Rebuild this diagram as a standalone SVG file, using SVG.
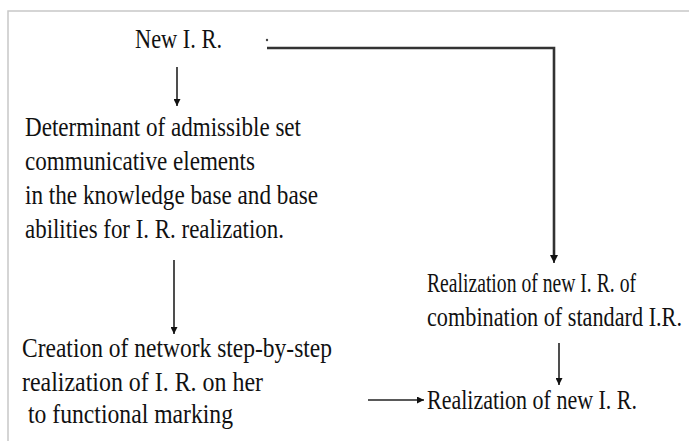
<svg xmlns="http://www.w3.org/2000/svg" width="689" height="441" viewBox="0 0 689 441">
<style>
text{font-family:"Liberation Serif","Times New Roman",serif;font-size:27px;fill:#111}
.ln{stroke:#222;stroke-width:1.6;fill:none}
.bl{stroke:#333;stroke-width:2.6;fill:none}
.fr{stroke:#c8c8c8;stroke-width:1.5;fill:none}
</style>
<defs>
<marker id="ah" viewBox="0 0 10 10" refX="10" refY="5" markerWidth="7" markerHeight="7" markerUnits="userSpaceOnUse" orient="auto">
<path d="M0,0 L10,5 L0,10 z" fill="#111"/>
</marker>
<marker id="ah2" viewBox="0 0 10 10" refX="10" refY="5" markerWidth="8" markerHeight="8" markerUnits="userSpaceOnUse" orient="auto">
<path d="M0,0 L10,5 L0,10 z" fill="#111"/>
</marker>
</defs>
<rect width="689" height="441" fill="#fff"/>
<path class="fr" d="M8,441 V11 H689"/>
<g id="n-new">
<text x="135" y="48" textLength="87" lengthAdjust="spacingAndGlyphs">New I. R.</text>
<circle cx="267" cy="40" r="1.2" fill="#444"/>
</g>
<g id="n-determinant">
<text x="25" y="136" textLength="276" lengthAdjust="spacingAndGlyphs">Determinant of admissible set</text>
<text x="25" y="170" textLength="230" lengthAdjust="spacingAndGlyphs">communicative elements</text>
<text x="25" y="204" textLength="293" lengthAdjust="spacingAndGlyphs">in the knowledge base and base</text>
<text x="25" y="238" textLength="259" lengthAdjust="spacingAndGlyphs">abilities for I. R. realization.</text>
</g>
<g id="n-creation">
<text x="22" y="357" textLength="310" lengthAdjust="spacingAndGlyphs">Creation of network step-by-step</text>
<text x="22" y="391" textLength="241" lengthAdjust="spacingAndGlyphs">realization of I. R. on her</text>
<text x="28" y="423" textLength="205" lengthAdjust="spacingAndGlyphs">to functional marking</text>
</g>
<g id="n-combination">
<text x="427" y="292" textLength="209" lengthAdjust="spacingAndGlyphs">Realization of new I. R. of</text>
<text x="427" y="326" textLength="255" lengthAdjust="spacingAndGlyphs">combination of standard I.R.</text>
</g>
<g id="n-realization">
<text x="427" y="409" textLength="210" lengthAdjust="spacingAndGlyphs">Realization of new I. R.</text>
</g>
<g id="connectors">
<line class="ln" x1="177" y1="67" x2="177" y2="106" marker-end="url(#ah)"/>
<line class="ln" x1="174" y1="260" x2="174" y2="334" marker-end="url(#ah)"/>
<path class="bl" d="M267,48 H554 V255"/>
<line class="ln" x1="554" y1="250" x2="554" y2="263" marker-end="url(#ah2)"/>
<line class="ln" x1="559" y1="343" x2="559" y2="385" marker-end="url(#ah)"/>
<line class="ln" x1="368" y1="400" x2="424" y2="400" marker-end="url(#ah)"/>
</g>
</svg>
